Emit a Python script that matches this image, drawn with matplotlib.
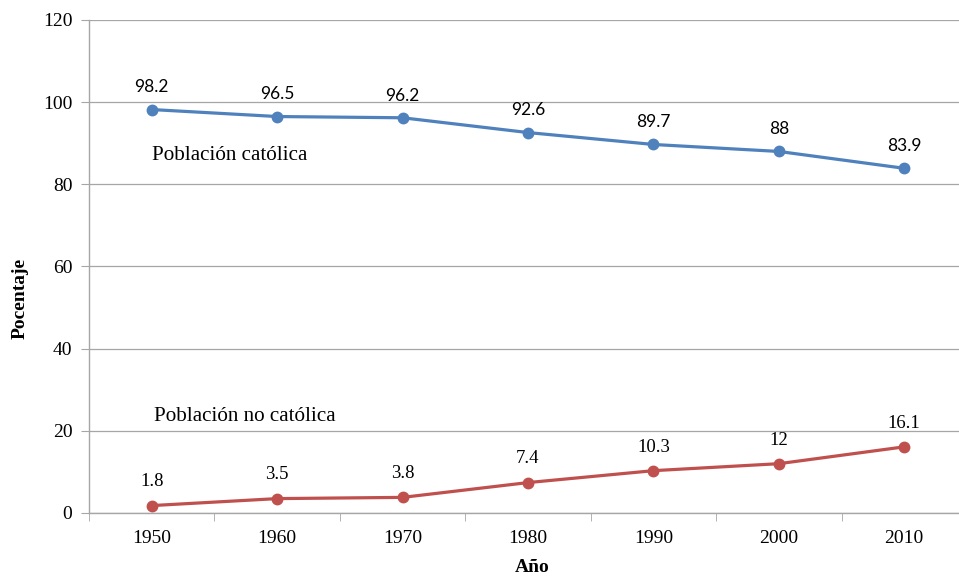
import matplotlib
matplotlib.use('Agg')
import matplotlib.pyplot as plt

# data
years = ['1950', '1960', '1970', '1980', '1990', '2000', '2010']
catolica = [98.2, 96.5, 96.2, 92.6, 89.7, 88, 83.9]
no_catolica = [1.8, 3.5, 3.8, 7.4, 10.3, 12, 16.1]
cat_labels = ['98.2', '96.5', '96.2', '92.6', '89.7', '88', '83.9']
nocat_labels = ['1.8', '3.5', '3.8', '7.4', '10.3', '12', '16.1']

serif = 'Liberation Serif'
blue = '#4F81BD'
red = '#C0504D'
grid_c = '#A6A6A6'

fig = plt.figure(figsize=(9.59, 5.76), dpi=100)
ax = fig.add_axes([0.0928, 0.1094, 0.9155, 0.8559])

x = list(range(len(years)))
ax.plot(x, catolica, color=blue, lw=2.3, marker='o', ms=7.5, zorder=3)
ax.plot(x, no_catolica, color=red, lw=2.3, marker='o', ms=7.5, zorder=3)

for i in x:
    ax.annotate(cat_labels[i], (i, catolica[i]), xytext=(0, 16), textcoords='offset points',
                ha='center', va='center', fontsize=12.5, family='Lato', color='black')
    ax.annotate(nocat_labels[i], (i, no_catolica[i]), xytext=(0, 17), textcoords='offset points',
                ha='center', va='center', fontsize=13.5, family=serif, color='black')

ax.text(0.0, 87.0, 'Población católica', fontsize=15.2, family=serif, va='center', ha='left')
ax.text(0.02, 23.4, 'Población no católica', fontsize=15.2, family=serif, va='center', ha='left')

ax.set_xlim(-0.5, 6.5)
ax.set_ylim(0, 120)
ax.set_yticks(range(0, 121, 20))
ax.set_xticks(x)
ax.set_xticklabels(years, family=serif, fontsize=14)
ax.set_yticklabels([str(v) for v in range(0, 121, 20)], family=serif, fontsize=14)
ax.set_xticks([i + 0.5 for i in range(-1, 7)], minor=True)
ax.tick_params(axis='x', which='major', length=0, pad=12)
ax.tick_params(axis='x', which='minor', length=6, color=grid_c, direction='out')
ax.tick_params(axis='y', length=6, color=grid_c, direction='out', pad=6)

ax.grid(axis='y', color=grid_c, lw=0.9)
ax.set_axisbelow(True)
for s in ['top', 'right']:
    ax.spines[s].set_visible(False)
for s in ['left', 'bottom']:
    ax.spines[s].set_color(grid_c)
    ax.spines[s].set_linewidth(1.0)

ax.set_ylabel('Pocentaje', family=serif, fontsize=14, fontweight='bold', va='center')
ax.yaxis.set_label_coords(-0.078, 0.436)
ax.set_xlabel('Año', family=serif, fontsize=14, fontweight='bold', va='center')
ax.xaxis.set_label_coords(0.5046, -0.11)

fig.savefig('out.png', dpi=100)
